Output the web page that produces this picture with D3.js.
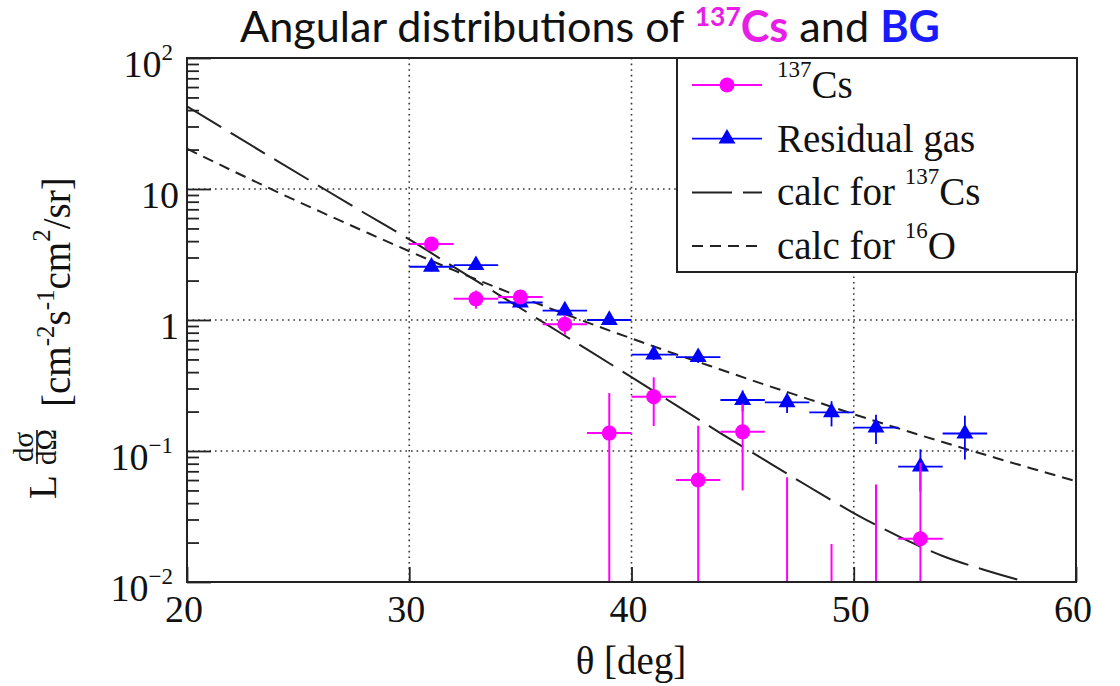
<!DOCTYPE html>
<html>
<head>
<meta charset="utf-8">
<script src="https://cdn.jsdelivr.net/npm/d3@7"></script>
<style>
  body { margin: 0; background: #fff; }
  svg text { font-family: "Liberation Serif", "Times New Roman", serif; fill: #111; }
</style>
</head>
<body>
<svg id="chart" width="1120" height="686"></svg>
<script>
// ---- measured angular distributions ----
const csTheta = [31, 33, 35, 37, 39, 41, 43, 45, 47, 49, 51, 53];
const csValue = [3.8, 1.45, 1.5, 0.93, 0.137, 0.26, 0.06, 0.14, 0, 0, 0, 0.0214];
const csError = [0.3, 0.23, 0.15, 0.16, 0.14, 0.105, 0.096, 0.09, 0.063, 0.0195, 0.0555, 0.06];

const bgTheta = [31, 33, 35, 37, 39, 41, 43, 45, 47, 49, 51, 53, 55];
const bgValue = [2.55, 2.62, 1.36, 1.18, 1.0, 0.545, 0.52, 0.245, 0.235, 0.197, 0.151, 0.076, 0.136];
const bgError = [0.2, 0.2, 0.12, 0.1, 0.08, 0.05, 0.05, 0.045, 0.04, 0.043, 0.038, 0.027, 0.05];

const binHalfWidth = 1; // deg

// ---- calculated cross sections ----
const calcTheta = [20, 22, 24, 26, 28, 30, 32, 34, 36, 38, 40, 42, 44, 46, 48, 50, 52, 54, 56, 58, 60];
const calcCs = [42.7, 26.6, 16.6, 10.4, 6.53, 4.12, 2.54, 1.57, 0.966, 0.596, 0.366, 0.224, 0.137,
                0.0851, 0.0531, 0.0336, 0.0224, 0.0158, 0.0122, 0.00977, 0.00813];
const calcO = [20.3, 13.9, 9.6, 6.71, 4.73, 3.35, 2.40, 1.75, 1.29, 0.96, 0.723, 0.548, 0.419,
               0.321, 0.248, 0.191, 0.149, 0.117, 0.0927, 0.0736, 0.0589];

// ---- axes ----
const xTicks = [20, 30, 40, 50, 60];
const xTickLabels = ["20", "30", "40", "50", "60"];
const yTicks = [0.01, 0.1, 1, 10, 100];
const yTickLabels = [["10", "\u22122"], ["10", "\u22121"], ["1", ""], ["10", ""], ["10", "2"]];
const xGrid = [30, 40, 50];
const yGrid = [0.1, 1, 10];

const MAGENTA = "#ff00ff", BLUE = "#0000ff", INK = "#222";

const frame = { left: 187, right: 1076, top: 58, bottom: 582 };
const svg = d3.select("#chart");

const x = d3.scaleLinear().domain([20, 60]).range([frame.left, frame.right]);
const y = d3.scaleLog().domain([0.01, 100]).range([frame.bottom, frame.top]);

svg.append("defs").append("clipPath").attr("id", "plotClip")
  .append("rect")
  .attr("x", frame.left).attr("y", frame.top)
  .attr("width", frame.right - frame.left).attr("height", frame.bottom - frame.top);

// grid
const grid = svg.append("g").attr("stroke", "#333").attr("stroke-width", 1.6)
  .attr("stroke-dasharray", "1.6,4");
grid.selectAll(".gx").data(xGrid).join("line")
  .attr("x1", d => x(d)).attr("x2", d => x(d))
  .attr("y1", frame.top).attr("y2", frame.bottom);
grid.selectAll(".gy").data(yGrid).join("line")
  .attr("x1", frame.left).attr("x2", frame.right)
  .attr("y1", d => y(d)).attr("y2", d => y(d));

// ticks (inside the frame)
const yMinor = [];
for (let e = -2; e < 2; e++) for (let m = 2; m <= 9; m++) yMinor.push(m * Math.pow(10, e));

function styleAxis(g) {
  g.select(".domain").remove();
  g.selectAll(".tick line").attr("stroke", INK).attr("stroke-width", 1.8);
  g.selectAll(".tick text").remove();
}
svg.append("g").attr("transform", `translate(${frame.left},0)`)
  .call(d3.axisLeft(y).tickValues(yTicks).tickSize(-24).tickFormat(""))
  .call(styleAxis);
svg.append("g").attr("transform", `translate(${frame.left},0)`)
  .call(d3.axisLeft(y).tickValues(yMinor).tickSize(-12).tickFormat(""))
  .call(styleAxis);
svg.append("g").attr("transform", `translate(0,${frame.bottom})`)
  .call(d3.axisBottom(x).tickValues(xTicks).tickSize(-15).tickFormat(""))
  .call(styleAxis);

// calculated curves
const plot = svg.append("g").attr("clip-path", "url(#plotClip)");
const curve = (vals) => d3.line()
  .x((d, i) => x(calcTheta[i])).y(d => y(d))
  .curve(d3.curveMonotoneX)(vals);

plot.append("path").attr("d", curve(calcO))
  .attr("fill", "none").attr("stroke", INK).attr("stroke-width", 2)
  .attr("stroke-dasharray", "11,7");
plot.append("path").attr("d", curve(calcCs))
  .attr("fill", "none").attr("stroke", INK).attr("stroke-width", 2)
  .attr("stroke-dasharray", "40,11");

// error bars + markers
function drawSeries(thetas, vals, errs, color, width, marker) {
  const g = plot.append("g").attr("stroke", color).attr("stroke-width", width);
  thetas.forEach((t, i) => {
    const v = vals[i], e = errs[i];
    const lo = v - e > 0 ? y(v - e) : frame.bottom + 2;
    g.append("line").attr("x1", x(t)).attr("x2", x(t)).attr("y1", lo).attr("y2", y(v + e));
    if (v > 0) {
      g.append("line").attr("x1", x(t - binHalfWidth)).attr("x2", x(t + binHalfWidth))
        .attr("y1", y(v)).attr("y2", y(v));
    }
  });
  const m = plot.append("g").attr("fill", color);
  thetas.forEach((t, i) => {
    if (vals[i] > 0) marker(m, x(t), y(vals[i]));
  });
}
const circleMarker = (g, cx, cy) => g.append("circle").attr("cx", cx).attr("cy", cy).attr("r", 7.5);
const triangleMarker = (g, cx, cy) => g.append("path")
  .attr("d", d3.symbol(d3.symbolTriangle, 125)())
  .attr("transform", `translate(${cx},${cy})`);

drawSeries(bgTheta, bgValue, bgError, BLUE, 1.8, triangleMarker);
drawSeries(csTheta, csValue, csError, MAGENTA, 2, circleMarker);

// frame
svg.append("rect")
  .attr("x", frame.left).attr("y", frame.top)
  .attr("width", frame.right - frame.left).attr("height", frame.bottom - frame.top)
  .attr("fill", "none").attr("stroke", INK).attr("stroke-width", 2);

// tick labels
svg.selectAll(".xl").data(xTicks).join("text")
  .attr("x", d => x(d) - 3).attr("y", frame.bottom + 40)
  .attr("text-anchor", "middle").attr("font-size", 38)
  .text((d, i) => xTickLabels[i]);

yTicks.forEach((v, i) => {
  const [base, sup] = yTickLabels[i];
  const t = svg.append("text")
    .attr("x", frame.left - (sup ? 14 : 8)).attr("y", y(v) + 19)
    .attr("text-anchor", "end").attr("font-size", 38);
  t.append("tspan").text(base);
  if (sup) t.append("tspan").attr("font-size", 23).attr("dy", -17).text(sup);
});

// rich text helper: parts = [{t, sup, size, raise, fill, weight}]
function rich(sel, parts, baseSize) {
  let raised = 0;
  parts.forEach(p => {
    const ts = sel.append("tspan").text(p.t);
    const r = p.sup ? (p.raise || baseSize * 0.45) : 0;
    if (r !== raised) ts.attr("dy", raised - r);
    raised = r;
    if (p.sup) ts.attr("font-size", p.size || baseSize * 0.6);
    if (p.fill) ts.style("fill", p.fill);
    if (p.weight) ts.attr("font-weight", p.weight);
  });
  return sel;
}

// axis titles
svg.append("text").attr("x", 631).attr("y", 674).attr("text-anchor", "middle")
  .attr("font-size", 39).text("\u03b8 [deg]");

const yTitle = svg.append("g").attr("transform", "rotate(-90)");
yTitle.append("text").attr("x", -499).attr("y", 56).attr("font-size", 39).text("L");
yTitle.append("text").attr("x", -447).attr("y", 33).attr("text-anchor", "middle")
  .attr("font-size", 29).text("d\u03c3");
yTitle.append("line").attr("x1", -464).attr("x2", -430).attr("y1", 37).attr("y2", 37)
  .attr("stroke", "#111").attr("stroke-width", 1.6);
yTitle.append("text").attr("x", -447).attr("y", 56).attr("text-anchor", "middle")
  .attr("font-size", 29).text("d\u03a9");
rich(yTitle.append("text").attr("x", -407).attr("y", 70).attr("font-size", 39), [
  { t: "[cm" }, { t: "-2", sup: true, size: 25, raise: 16 }, { t: "s" },
  { t: "-1", sup: true, size: 25, raise: 16 }, { t: "cm" },
  { t: "2", sup: true, size: 25, raise: 20 }, { t: "/sr]" }
], 39);

// legend
const legendEntries = [
  { parts: [{ t: "137", sup: true, size: 23, raise: 21 }, { t: "Cs" }], kind: "cs" },
  { parts: [{ t: "Residual gas" }], kind: "bg" },
  { parts: [{ t: "calc for " }, { t: "137", sup: true, size: 23, raise: 21 }, { t: "Cs" }], kind: "calcCs" },
  { parts: [{ t: "calc for " }, { t: "16", sup: true, size: 23, raise: 21 }, { t: "O" }], kind: "calcO" }
];
const lg = svg.append("g");
lg.append("rect").attr("x", 677).attr("y", 58).attr("width", 400).attr("height", 214)
  .attr("fill", "#fff").attr("stroke", INK).attr("stroke-width", 2);
legendEntries.forEach((e, i) => {
  const cy = 85 + i * 53.7;
  const line = lg.append("line").attr("x1", 692).attr("x2", 762).attr("y1", cy).attr("y2", cy)
    .attr("stroke-width", 2);
  if (e.kind === "cs") { line.attr("stroke", MAGENTA); circleMarker(lg.append("g").attr("fill", MAGENTA), 727, cy); }
  if (e.kind === "bg") { line.attr("stroke", BLUE).attr("stroke-width", 1.8); triangleMarker(lg.append("g").attr("fill", BLUE), 727, cy); }
  if (e.kind === "calcCs") line.attr("stroke", INK).attr("stroke-dasharray", "40,11");
  if (e.kind === "calcO") line.attr("stroke", INK).attr("stroke-dasharray", "11,7");
  rich(lg.append("text").attr("x", 777).attr("y", cy + 13).attr("font-size", 39), e.parts, 39);
});

// title
const title = svg.append("text").attr("x", 590).attr("y", 42).attr("text-anchor", "middle")
  .style("font-family", "Lato, 'Open Sans', sans-serif").attr("font-size", 44);
rich(title, [
  { t: "Angular distributions of " },
  { t: "137", sup: true, size: 27, raise: 16, fill: "#e61ee6", weight: "bold" },
  { t: "Cs", fill: "#e61ee6", weight: "bold" },
  { t: " and " },
  { t: "BG", fill: "#1a1aff", weight: "bold" }
], 44);
const tw = title.node().getBBox().width;
const fit = 700 / tw;
title.attr("font-size", 44 * fit);
title.selectAll("tspan").each(function () {
  const s = d3.select(this);
  if (s.attr("font-size")) s.attr("font-size", +s.attr("font-size") * fit);
  if (s.attr("dy")) s.attr("dy", +s.attr("dy") * fit);
});
</script>
</body>
</html>
